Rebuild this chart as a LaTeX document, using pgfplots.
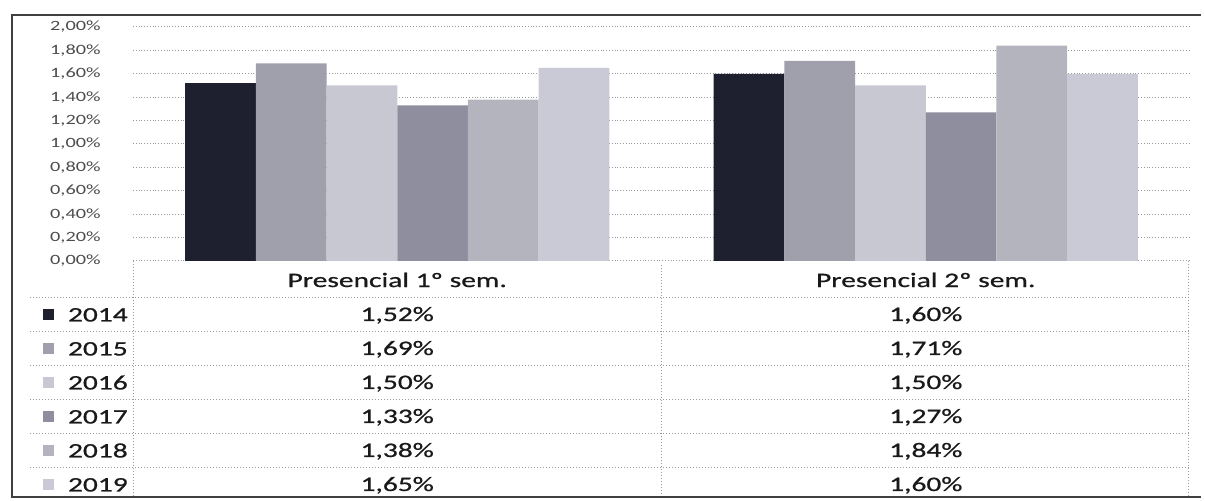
\documentclass[border=0pt]{standalone}
\usepackage{fontspec}
\setmainfont{Carlito}[FakeStretch=1.43]
\newfontfamily\tabfam{Carlito}[FakeStretch=1.43, FakeBold=0.8]
\usepackage{pgfplots}
\usepackage{pgfplotstable}
\pgfplotsset{compat=1.18}

\definecolor{c2014}{HTML}{1E2030}
\definecolor{c2015}{HTML}{A0A0AC}
\definecolor{c2016}{HTML}{C8C8D2}
\definecolor{c2017}{HTML}{8E8E9E}
\definecolor{c2018}{HTML}{B4B4BE}
\definecolor{c2019}{HTML}{CACAD6}
\definecolor{gridc}{HTML}{9A9A9A}

\newcommand\tabfont{\tabfam\fontsize{10.3pt}{12pt}\selectfont}

% taxa por semestre (presencial), uma coluna por ano
\pgfplotstableread{
x  y2014 y2015 y2016 y2017 y2018 y2019
0  1.52  1.69  1.50  1.33  1.38  1.65
1  1.60  1.71  1.50  1.27  1.84  1.60
}\rates

\begin{document}
\begin{tikzpicture}
\path[use as bounding box] (-66.5pt,-120pt) rectangle (536pt,130.5pt);
\begin{axis}[
  at={(0,0)}, anchor=south west,
  scale only axis, width=528.5pt, height=117pt,
  ybar=0pt, bar width=0.1338,
  legend image code/.code={\fill[#1] (0pt,-2.75pt) rectangle (5.5pt,2.75pt);},
  xmin=-0.5, xmax=1.5, ymin=0, ymax=2,
  xtick=data, xticklabels={Presencial 1º sem., Presencial 2º sem.},
  xticklabel style={font=\tabfont, text=black!90, anchor=base, inner sep=0pt, yshift=-8.75pt},
  ytick={0,0.2,0.4,0.6,0.8,1,1.2,1.4,1.6,1.8,2},
  yticklabel={\pgfmathprintnumber{\tick}\%},
  yticklabel style={font=\fontsize{7.1pt}{8pt}\selectfont, text=black!70, anchor=east, inner sep=0pt, xshift=-16pt},
  /pgf/number format/fixed, /pgf/number format/fixed zerofill,
  /pgf/number format/precision=2, /pgf/number format/use comma,
  /pgf/number format/assume math mode=true,
  axis line style={draw=none}, tick style={draw=none},
  ymajorgrids, major grid style={gridc, densely dotted, line width=0.5pt},
  legend cell align=left,
  legend style={at={(axis description cs:-0.08515,-0.1987)}, anchor=north west,
    draw=none, fill=none, inner sep=0pt, outer sep=0pt, row sep=10pt, column sep=7pt,
    font=\tabfont, text=black!90, nodes={inner sep=0pt, text height=7pt, text depth=0pt}},
]
\addplot[fill=c2014, draw=none] table[x=x, y=y2014] {\rates}; \addlegendentry{2014}
\addplot[fill=c2015, draw=none] table[x=x, y=y2015] {\rates}; \addlegendentry{2015}
\addplot[fill=c2016, draw=none] table[x=x, y=y2016] {\rates}; \addlegendentry{2016}
\addplot[fill=c2017, draw=none] table[x=x, y=y2017] {\rates}; \addlegendentry{2017}
\addplot[fill=c2018, draw=none] table[x=x, y=y2018] {\rates}; \addlegendentry{2018}
\addplot[fill=c2019, draw=none] table[x=x, y=y2019] {\rates}; \addlegendentry{2019}
\end{axis}

% tabela de dados
\begin{scope}[gridc, line width=0.5pt, densely dotted]
  \foreach \i in {0,...,5}
    \draw (-51.5pt, {-18.25pt-17pt*\i}) -- (527.75pt, {-18.25pt-17pt*\i});
  \draw (0pt,0pt) -- (0pt,-118pt);
  \draw (264.25pt,-2pt) -- (264.25pt,-118pt);
  \draw (527.75pt,0pt) -- (527.75pt,-118pt);
\end{scope}
\draw[black!75, line width=1pt] (534pt,123pt) -- (-60.5pt,123pt) -- (-60.5pt,-118pt) -- (534pt,-118pt);

\foreach \yr [count=\i from 0] in {2014,...,2019}{
  \foreach \c/\xc in {0/132.1pt, 1/396.4pt}{
    \pgfplotstablegetelem{\c}{y\yr}\of\rates
    \node[font=\tabfont, text=black!90, anchor=base, inner sep=0pt] at (\xc, {-30pt-17pt*\i})
      {\pgfmathprintnumber[fixed, fixed zerofill, precision=2, use comma, assume math mode=true]{\pgfplotsretval}\%};
  }
}
\end{tikzpicture}
\end{document}
